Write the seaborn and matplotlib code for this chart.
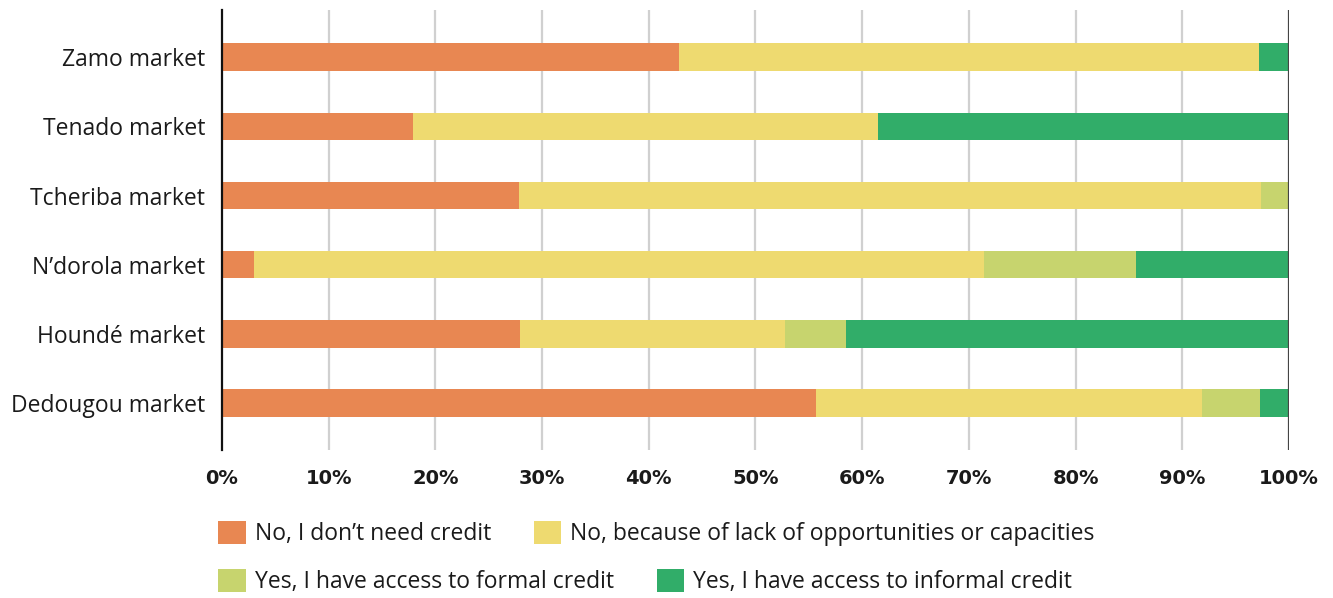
import matplotlib
matplotlib.use("Agg")
import matplotlib.pyplot as plt
from matplotlib.patches import Patch
import seaborn as sns
import pandas as pd

markets = ["Zamo market", "Tenado market", "Tcheriba market",
           "N\u2019dorola market", "Houndé market", "Dedougou market"]

no_need = [42.8, 17.9, 27.8, 3.0, 27.9, 55.7]
no_opportunity = [54.4, 43.6, 69.6, 68.4, 24.9, 36.1]
formal_credit = [0.0, 0.0, 2.6, 14.3, 5.7, 5.5]
informal_credit = [2.8, 38.5, 0.0, 14.3, 41.5, 2.7]

series_labels = ["No, I don\u2019t need credit",
                 "No, because of lack of opportunities or capacities",
                 "Yes, I have access to formal credit",
                 "Yes, I have access to informal credit"]
colors = ["#E88752", "#EEDA70", "#C7D46E", "#31AD69"]

tick_values = [0, 10, 20, 30, 40, 50, 60, 70, 80, 90, 100]

sns.set_theme(style="white")
plt.rcParams["font.family"] = ["Open Sans", "DejaVu Sans"]

df = pd.DataFrame({
    "market": markets,
    "s0": no_need,
    "s1": no_opportunity,
    "s2": formal_credit,
    "s3": informal_credit,
})
cols = ["s0", "s1", "s2", "s3"]
cum = df[cols].cumsum(axis=1)

fig = plt.figure(figsize=(13.33, 5.98), dpi=100)
ax = fig.add_axes([0.1665, 0.2475, 0.8005, 0.7355])

# stacked horizontal bars: draw the longest cumulative segment first
for i in reversed(range(4)):
    sns.barplot(x=cum[cols[i]], y=df["market"], orient="h", color=colors[i],
                width=0.4, ax=ax, saturation=1, linewidth=0)

ax.set_xlim(0, 100)
ax.set_ylim(5.68, -0.68)
ax.set_xticks(tick_values)
ax.set_xticklabels([f"{v}%" for v in tick_values], fontsize=14,
                   fontweight="bold", family=["DejaVu Sans"])
ax.tick_params(axis="x", length=0, pad=14, colors="#1a1a1a")
ax.tick_params(axis="y", length=0, pad=12, labelsize=16.5, colors="#1a1a1a")
ax.set_xlabel("")
ax.set_ylabel("")

for v in tick_values[1:-1]:
    ax.axvline(v, color="#d0d0d0", linewidth=1.6, zorder=0)
ax.axvline(100, color="#444444", linewidth=1.6, zorder=3)

for side in ["top", "right", "bottom"]:
    ax.spines[side].set_visible(False)
ax.spines["left"].set_color("#111111")
ax.spines["left"].set_linewidth(1.6)

handles = [Patch(facecolor=c, edgecolor="none") for c in colors]
leg_kw = dict(frameon=False, fontsize=16.5, handlelength=1.2, handleheight=1.2,
              handletextpad=0.4, columnspacing=1.85, borderaxespad=0,
              labelcolor="#1a1a1a")
fig.legend(handles[:2], series_labels[:2], ncol=2, loc="center left",
           bbox_to_anchor=(0.157, 0.108), **leg_kw)
fig.legend(handles[2:], series_labels[2:], ncol=2, loc="center left",
           bbox_to_anchor=(0.157, 0.028), **leg_kw)

fig.savefig("out.png", dpi=100)
